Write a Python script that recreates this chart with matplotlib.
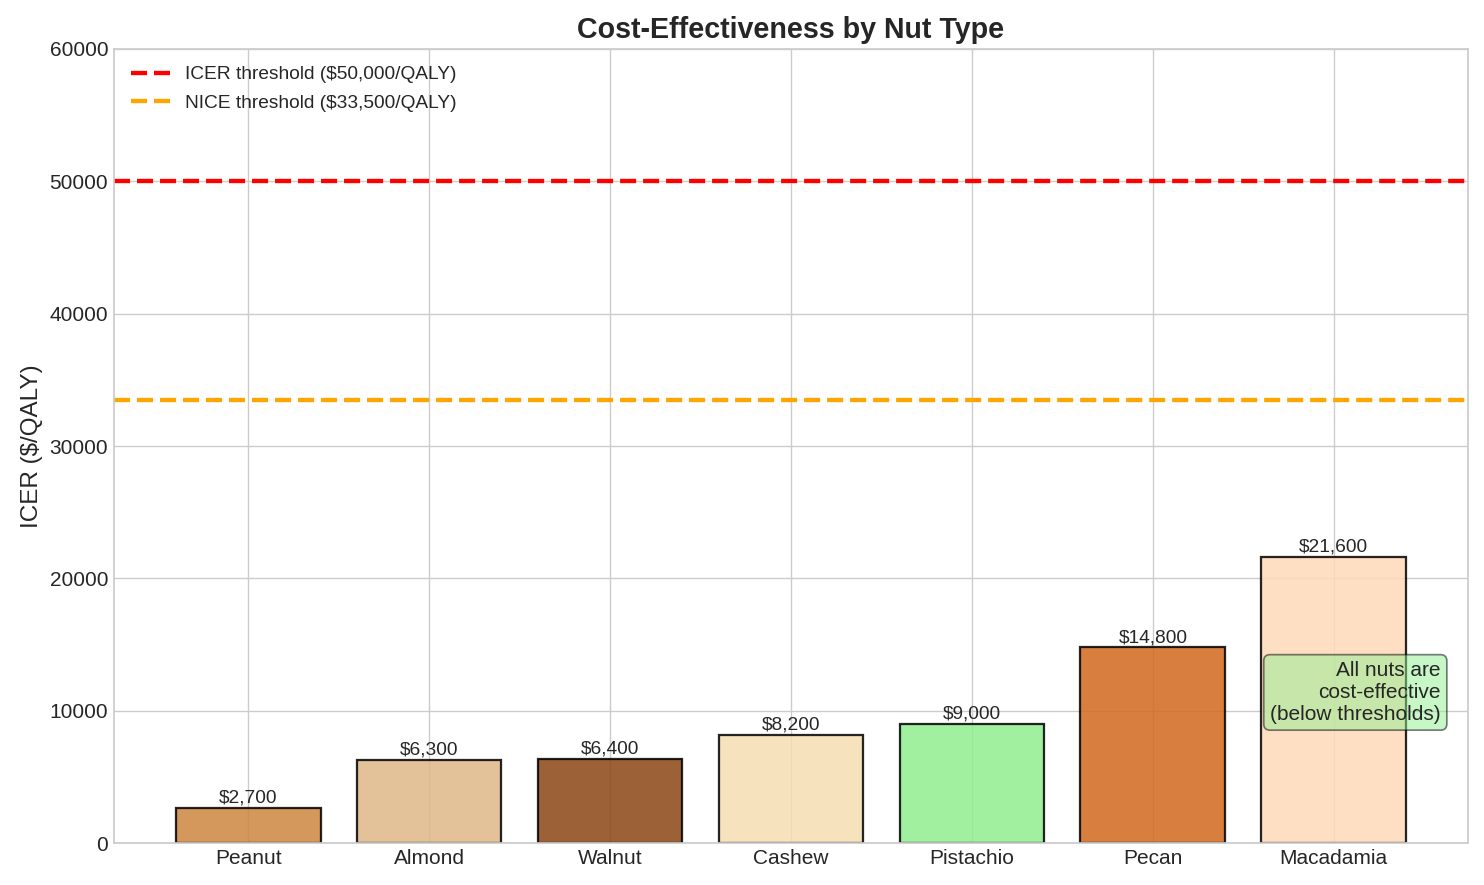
import matplotlib
matplotlib.use("Agg")
import matplotlib.pyplot as plt

nuts = ["Peanut", "Almond", "Walnut", "Cashew", "Pistachio", "Pecan", "Macadamia"]
icer = [2700, 6300, 6400, 8200, 9000, 14800, 21600]
colors = ["#CD853F", "#DEB887", "#8B4513", "#F5DEB3", "#90EE90", "#D2691E", "#FFDAB9"]

icer_threshold = 50000
nice_threshold = 33500

plt.style.use("seaborn-v0_8-whitegrid")
plt.rcParams["font.family"] = ["Liberation Sans", "DejaVu Sans"]

fig, ax = plt.subplots(figsize=(11.872, 7.08), dpi=125)
fig.subplots_adjust(left=0.077, right=0.989, top=0.945, bottom=0.047)

bars = ax.bar(nuts, icer, color=colors, alpha=0.85, edgecolor="black", linewidth=1.3, width=0.8)

for bar, v in zip(bars, icer):
	ax.text(bar.get_x() + bar.get_width() / 2, v + 100, "${:,}".format(v),
		ha="center", va="bottom", fontsize=11)

ax.axhline(icer_threshold, color="red", linestyle="--", linewidth=2.5, label="ICER threshold ($50,000/QALY)")
ax.axhline(nice_threshold, color="orange", linestyle="--", linewidth=2.5, label="NICE threshold ($33,500/QALY)")

ax.set_ylim(0, 60000)
ax.set_ylabel("ICER ($/QALY)", fontsize=14)
ax.set_title("Cost-Effectiveness by Nut Type", fontsize=16.5, fontweight="bold")
ax.tick_params(axis="both", labelsize=12)
ax.legend(loc="upper left", fontsize=11, labelspacing=0.6)

ax.text(0.98, 0.19, "All nuts are\ncost-effective\n(below thresholds)", transform=ax.transAxes,
	ha="right", va="center", fontsize=12,
	bbox=dict(boxstyle="round,pad=0.3", facecolor="lightgreen", alpha=0.5))

fig.savefig("out.png", dpi=125)
